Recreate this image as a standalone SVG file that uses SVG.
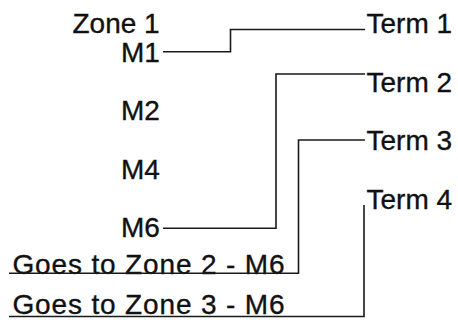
<svg xmlns="http://www.w3.org/2000/svg" width="458" height="320" viewBox="0 0 458 320">
<style>
text{font-family:"Liberation Sans",Arial,sans-serif;font-size:28px;fill:#111;stroke:#111;stroke-width:0.35}
.c{fill:none;stroke:#1a1a1a;stroke-width:1.6}
</style>
<rect width="458" height="320" fill="#fff"/>
<g id="zone1"><text x="72.5" y="33">Zone 1</text></g>
<g id="m1"><text x="121" y="61.5">M1</text></g>
<g id="m2"><text x="121" y="120">M2</text></g>
<g id="m4"><text x="121" y="178.5">M4</text></g>
<g id="m6"><text x="121" y="237">M6</text></g>
<g id="term1"><text x="366.5" y="33">Term 1</text></g>
<g id="term2"><text x="366.5" y="91.5">Term 2</text></g>
<g id="term3"><text x="366.5" y="149.5">Term 3</text></g>
<g id="term4"><text x="366.5" y="208.5">Term 4</text></g>
<g id="zone2"><text x="12.5" y="273.5" textLength="272" lengthAdjust="spacing">Goes to Zone 2 - M6</text></g>
<g id="zone3"><text x="12.5" y="314" textLength="272" lengthAdjust="spacing">Goes to Zone 3 - M6</text></g>
<g id="connectors">
<polyline class="c" points="163,51.7 230.5,51.7 230.5,29.5 365,29.5"/>
<polyline class="c" points="163,228.3 276,228.3 276,74 365,74"/>
<polyline class="c" points="9,273.3 298.5,273.3 298.5,140 365,140"/>
<polyline class="c" points="9,316.5 364,316.5 364,205"/>
</g>
</svg>
